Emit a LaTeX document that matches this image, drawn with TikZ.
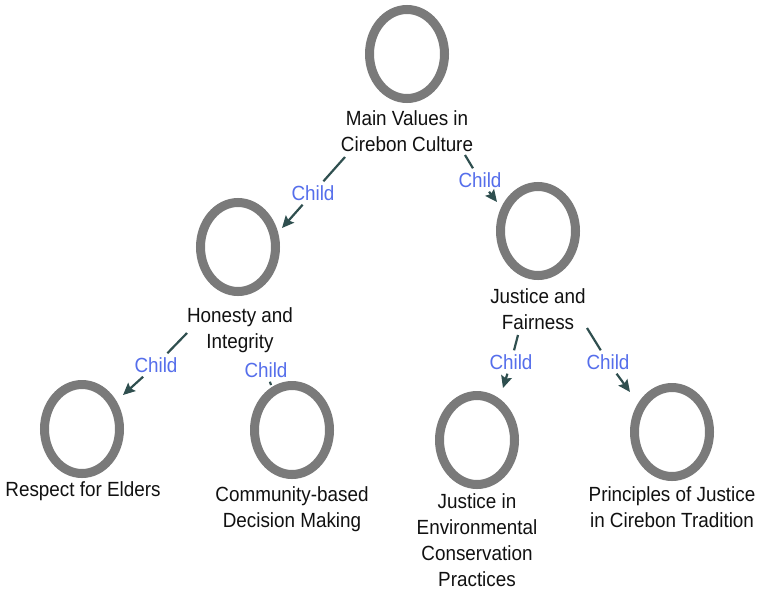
\documentclass[tikz,border=0pt]{standalone}
\usepackage{fontspec}
\setmainfont{Liberation Sans}[FakeStretch=0.92]
\usetikzlibrary{shapes.geometric,arrows.meta}
\definecolor{ring}{RGB}{122,122,122}
\definecolor{edgec}{RGB}{47,79,79}
\definecolor{childc}{RGB}{85,110,235}
\definecolor{txt}{RGB}{17,17,17}
\begin{document}
\begin{tikzpicture}[x=1pt,y=-1pt,
 ringnode/.style={ellipse, draw=ring, line width=9pt, minimum width=75pt, minimum height=89pt, inner sep=0pt},
 lbl/.style={align=center, font=\fontsize{20.5}{26}\selectfont, text=txt, inner sep=0pt},
 childlbl/.style={font=\fontsize{20.5}{24}\selectfont, text=childc, inner sep=2pt, minimum height=23pt},
 conn/.style={draw=edgec, line width=2.2pt},
 arr/.style={-{Stealth[length=12pt,width=11pt,inset=2pt]}}
]
\useasboundingbox[fill=white] (0,0) rectangle (759,592);

% rings
\node[ringnode] (main) at (407,54) {};
\node[ringnode] (hon) at (238,247) {};
\node[ringnode] (jus) at (538,231) {};
\node[ringnode] (res) at (82,429) {};
\node[ringnode] (com) at (292,430) {};
\node[ringnode] (env) at (477,440) {};
\node[ringnode] (pri) at (672,432) {};

% labels
\node[lbl] (mainT) at (407,131.5) {Main Values in\\Cirebon Culture};
\node[lbl] (honT) at (240,330.5) {Honesty and\\Integrity};
\node[lbl] (jusT) at (538,309.5) {Justice and\\Fairness};
\node[lbl] (resT) at (83,491) {Respect for Elders};
\node[lbl] (comT) at (292,509.5) {Community-based\\Decision Making};
\node[lbl] (envT) at (477,540) {Justice in\\Environmental\\Conservation\\Practices};
\node[lbl] (priT) at (672,507) {Principles of Justice\\in Cirebon Tradition};

% child labels
\node[childlbl] (c1) at (313,193) {Child};
\node[childlbl] (c2) at (480,180) {Child};
\node[childlbl] (c3) at (156,365) {Child};
\node[childlbl] (c4) at (266,370) {Child};
\node[childlbl] (c5) at (511,362) {Child};
\node[childlbl] (c6) at (608,362) {Child};

% connector ends
\coordinate (a1) at (345,157); \coordinate (t1) at (282,228);
\coordinate (a2) at (465,155); \coordinate (t2) at (497,202);
\coordinate (a3) at (187,333); \coordinate (t3) at (123,395);
\coordinate (t4) at (271,385);
\coordinate (a5) at (518,335); \coordinate (t5) at (503,388);
\coordinate (a6) at (587,328); \coordinate (t6) at (630,392);

\draw[conn] (a1) -- (c1); \draw[conn,arr] (c1) -- (t1);
\draw[conn] (a2) -- (c2); \draw[conn,arr] (c2) -- (t2);
\draw[conn] (a3) -- (c3); \draw[conn,arr] (c3) -- (t3);
\draw[conn] (c4) -- (t4);
\draw[conn] (a5) -- (c5); \draw[conn,arr] (c5) -- (t5);
\draw[conn] (a6) -- (c6); \draw[conn,arr] (c6) -- (t6);
\end{tikzpicture}
\end{document}
